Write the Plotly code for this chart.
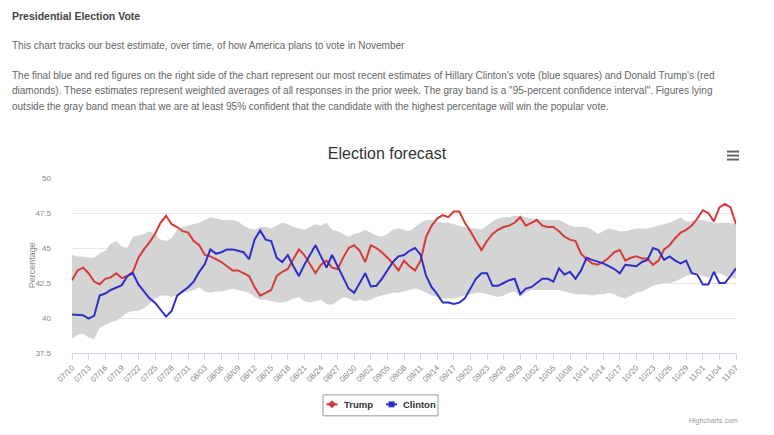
import datetime as dt
import plotly.graph_objects as go

# ---------------- data ----------------
start = dt.date(2016, 7, 10)
n_days = 121
dates = [start + dt.timedelta(days=i) for i in range(n_days)]

trump = [42.7, 43.4, 43.6, 43.2, 42.6, 42.4, 42.8, 42.9, 43.2, 42.85,
         43.0, 43.3, 44.3, 44.9, 45.4, 46.0, 46.8, 47.3, 46.7, 46.5,
         46.2, 46.1, 45.5, 45.2, 44.5, 44.4, 44.2, 44.0, 43.7, 43.4,
         43.4, 43.2, 43.0, 42.2, 41.6, 41.8, 42.0, 43.0, 43.3, 43.5,
         44.2, 44.9, 44.5, 43.8, 43.2, 43.8, 44.1, 43.6, 43.5, 44.3,
         45.0, 45.2, 44.8, 44.0, 45.2, 45.0, 44.7, 44.3, 43.9, 43.4,
         44.1, 43.7, 43.4, 44.1, 45.8, 46.6, 47.1, 47.35, 47.2, 47.6,
         47.6, 46.8, 46.2, 45.5, 44.85, 45.5, 46.0, 46.3, 46.5, 46.6,
         46.8, 47.2, 46.6, 46.8, 47.0, 46.6, 46.5, 46.5, 46.2, 45.8,
         45.6, 45.5, 44.6, 44.2, 43.9, 43.8, 44.0, 44.3, 44.7, 44.85,
         44.1, 44.3, 44.4, 44.25, 44.25, 43.8, 44.1, 44.9, 45.2, 45.7,
         46.1, 46.3, 46.6, 47.1, 47.7, 47.5, 46.9, 47.9, 48.15, 47.9,
         46.7]

clinton = [40.25, 40.25, 40.2, 39.95, 40.15, 41.6, 41.75, 42.0, 42.2, 42.35,
           43.0, 43.2, 42.4, 41.9, 41.4, 41.1, 40.6, 40.1, 40.5, 41.6,
           41.9, 42.2, 42.6, 43.3, 43.85, 44.9, 44.6, 44.7, 44.9, 44.9,
           44.8, 44.7, 44.2, 45.6, 46.25, 45.6, 45.5, 44.3, 44.0, 44.5,
           43.7, 43.0, 43.8, 44.5, 45.2, 44.4, 43.6, 44.5, 43.7, 42.8,
           42.1, 41.8, 42.5, 43.2, 42.25, 42.3, 42.8, 43.4, 44.0, 44.4,
           44.5, 44.8, 45.0, 44.5, 43.0, 42.2, 41.7, 41.1, 41.1, 41.0,
           41.1, 41.4, 42.1, 42.8, 43.2, 43.2, 42.3, 42.3, 42.5, 42.7,
           42.8, 41.7, 42.1, 42.2, 42.5, 42.8, 42.8, 42.6, 43.55, 43.1,
           43.3, 42.8, 43.4, 44.3, 44.15, 44.05, 43.9, 43.7, 43.5, 43.2,
           43.8, 43.75, 43.7, 44.0, 44.15, 45.0, 44.85, 44.15, 44.4, 44.1,
           43.9, 44.1, 43.2, 43.1, 42.4, 42.4, 43.3, 42.5, 42.5, 43.0,
           43.55]

band_upper = [44.5, 44.4, 44.4, 44.3, 44.3, 44.6, 44.8, 45.3, 45.5, 45.1,
              45.0, 45.8, 45.9, 46.0, 46.2, 46.0, 45.6, 45.5, 45.7, 46.3,
              46.5, 46.6, 46.7, 46.8, 47.0, 47.2, 47.1, 47.0, 47.0, 47.0,
              46.9, 46.6, 46.4, 46.3, 46.5, 46.5, 46.4, 46.6, 46.8, 46.7,
              46.5, 46.4, 46.3, 46.5, 46.7, 46.6, 46.8, 46.3, 46.2, 46.0,
              45.8, 46.0, 46.1, 46.3, 46.1, 45.9, 45.8, 46.0, 46.3, 46.4,
              46.3, 46.2, 46.5, 46.8, 47.0, 47.0, 46.9, 46.8, 46.8, 46.7,
              46.6, 46.5, 46.4, 46.4, 46.3, 46.6, 46.9, 47.1, 47.2, 47.2,
              47.3, 47.3, 47.2, 47.1, 47.1, 47.0, 47.0, 47.0, 47.0, 46.8,
              46.6, 46.5, 46.5, 46.5, 46.3, 46.0, 46.2, 46.4, 46.3, 46.2,
              46.2, 46.3, 46.4, 46.4, 46.4, 46.5, 46.6, 46.7, 46.8, 47.0,
              47.2, 46.9, 46.9, 47.0, 47.0, 46.9, 46.8, 46.8, 46.8, 46.8,
              46.7]

band_lower = [38.5, 38.8, 38.9, 38.6, 38.5, 39.3, 39.5, 39.7, 39.8, 40.1,
              40.4, 40.5, 40.5, 40.7, 41.0, 41.4, 41.6, 41.6, 41.5, 41.6,
              41.8, 41.9, 42.0, 42.2, 41.9, 41.8, 41.9, 41.9, 42.0, 42.1,
              42.0, 41.9, 41.8, 41.5, 41.3, 41.3, 41.2, 41.1, 41.1, 41.2,
              41.4, 41.5, 41.2, 41.1, 41.2, 41.3, 41.0, 40.95, 41.2, 41.5,
              41.4, 41.2, 41.3, 41.2, 41.3, 41.5, 41.6, 41.7, 41.8, 41.8,
              41.9, 42.0, 42.1, 42.0, 41.8, 41.6, 41.5, 41.4, 41.4, 41.4,
              41.5, 41.6, 41.7, 41.8, 41.8, 41.7, 41.6, 41.5, 41.6, 41.8,
              41.9, 41.5, 41.8, 42.0, 42.0, 42.0, 42.0, 42.0, 42.0, 41.9,
              41.8, 41.7, 41.7, 41.7, 41.6, 41.7, 41.7, 41.8, 41.7, 41.5,
              41.4, 41.6, 41.8, 41.9, 42.1, 42.3, 42.4, 42.5, 42.5, 42.6,
              42.8, 43.0, 43.1, 43.2, 43.0, 42.9, 43.1, 43.2, 43.0, 42.9,
              42.8]

y_ticks = [37.5, 40, 42.5, 45, 47.5, 50]
y_tick_labels = ["37.5", "40", "42.5", "45", "47.5", "50"]
x_tick_dates = dates[::3]
x_tick_labels = [d.strftime("%m/%d") for d in x_tick_dates]
series_names = ["Trump", "Clinton"]

RED = "#d63a3a"
BLUE = "#2e2ec8"
FONT = "Liberation Sans, Arial, sans-serif"

# pixel -> paper helpers (plot area: x 72..736, y 177.5..353)
def px(x):
    return (x - 72) / 664


def py(y):
    return (353 - y) / 175.5


fig = go.Figure()

# confidence band
fig.add_trace(go.Scatter(x=dates, y=band_lower, mode="lines",
                         line=dict(width=0, color="#d4d4d4"),
                         showlegend=False, hoverinfo="skip"))
fig.add_trace(go.Scatter(x=dates, y=band_upper, mode="lines",
                         line=dict(width=0, color="#d4d4d4"),
                         fill="tonexty", fillcolor="#d4d4d4",
                         showlegend=False, hoverinfo="skip"))

fig.add_trace(go.Scatter(x=dates, y=trump, mode="lines", name=series_names[0],
                         line=dict(color=RED, width=2), showlegend=False))
fig.add_trace(go.Scatter(x=dates, y=clinton, mode="lines", name=series_names[1],
                         line=dict(color=BLUE, width=2), showlegend=False))

fig.update_layout(
    width=774, height=435,
    margin=dict(l=72, r=38, t=177.5, b=82),
    paper_bgcolor="white", plot_bgcolor="white",
    font=dict(family=FONT, color="#666"),
    title=dict(text="Election forecast", x=0.5, xref="container", xanchor="center",
               y=1 - 153 / 435, yref="container", yanchor="middle",
               font=dict(size=16, color="#333", family=FONT)),
    showlegend=False,
)

fig.update_xaxes(
    range=[dates[0], dates[-1]],
    tickvals=x_tick_dates, ticktext=x_tick_labels,
    tickangle=-45, tickfont=dict(size=8, color="#888"),
    showgrid=False, showline=True, linecolor="#ccd6eb", linewidth=1,
    ticks="outside", ticklen=6, tickcolor="#ccd6eb", zeroline=False,
)
fig.update_yaxes(
    range=[37.5, 50], tickvals=y_ticks, ticktext=y_tick_labels,
    tickfont=dict(size=8, color="#888"),
    showgrid=True, gridcolor="#e6e6e6", gridwidth=1, zeroline=False,
    showline=False, ticks="", ticklabelstandoff=20,
)

# y-axis title
fig.add_annotation(text="Percentage", xref="paper", yref="paper",
                   x=px(32), y=py(265), textangle=-90, showarrow=False,
                   xanchor="center", yanchor="middle",
                   font=dict(size=9, color="#888", family=FONT))

# page text above the chart
texts = [
    (10, 15, "<b>Presidential Election Vote</b>", 10.5, "#444"),
    (10, 45, "This chart tracks our best estimate, over time, of how America plans to vote in November", 10, "#666"),
    (10, 75, "The final blue and red figures on the right side of the chart represent our most recent estimates of Hillary Clinton's vote (blue squares) and Donald Trump's (red", 10, "#666"),
    (10, 90, "diamonds). These estimates represent weighted averages of all responses in the prior week. The gray band is a \"95-percent confidence interval\". Figures lying", 10, "#666"),
    (10, 106, "outside the gray band mean that we are at least 95% confident that the candidate with the highest percentage will win the popular vote.", 10, "#666"),
]
for tx, ty, t, fs, col in texts:
    fig.add_annotation(text=t, xref="paper", yref="paper",
                       x=px(tx), y=py(ty),
                       xanchor="left", yanchor="middle", showarrow=False,
                       font=dict(size=fs, color=col, family=FONT))

# credits
fig.add_annotation(text="Highcharts.com", xref="paper", yref="paper",
                   x=px(740), y=py(421),
                   xanchor="right", yanchor="middle", showarrow=False,
                   font=dict(size=7, color="#999", family=FONT))

# export menu icon (three bars)
for yy in (151, 155, 159):
    fig.add_shape(type="line", xref="paper", yref="paper",
                  x0=px(727), x1=px(739), y0=py(yy), y1=py(yy),
                  line=dict(color="#666", width=2))

# legend box (drawn to match the compact Highcharts legend)
fig.add_shape(type="rect", xref="paper", yref="paper",
              x0=px(323), x1=px(438), y0=py(395), y1=py(416),
              line=dict(color="#999", width=1), fillcolor="white", layer="above")
ly = 404.5
legend_items = [
    (series_names[0], RED, "diamond", 326.5, 341.5),
    (series_names[1], BLUE, "square", 386, 400.5),
]
for name, col, sym, lx, tx in legend_items:
    fig.add_shape(type="line", xref="paper", yref="paper",
                  x0=px(lx), x1=px(lx + 11), y0=py(ly), y1=py(ly),
                  line=dict(color=col, width=2), layer="above")
    cx = lx + 5.5
    if sym == "diamond":
        path = (f"M {px(cx)},{py(ly - 4)} L {px(cx + 4)},{py(ly)} "
                f"L {px(cx)},{py(ly + 4)} L {px(cx - 4)},{py(ly)} Z")
        fig.add_shape(type="path", xref="paper", yref="paper", path=path,
                      fillcolor=col, line=dict(color=col, width=0), layer="above")
    else:
        fig.add_shape(type="rect", xref="paper", yref="paper",
                      x0=px(cx - 3), x1=px(cx + 3), y0=py(ly - 3), y1=py(ly + 3),
                      fillcolor=col, line=dict(color=col, width=0), layer="above")
    fig.add_annotation(text=f"<b>{name}</b>", xref="paper", yref="paper",
                       x=px(tx), y=py(ly), xanchor="left", yanchor="middle",
                       showarrow=False,
                       font=dict(size=9.5, color="#333", family=FONT))

fig.write_html("out.html")
